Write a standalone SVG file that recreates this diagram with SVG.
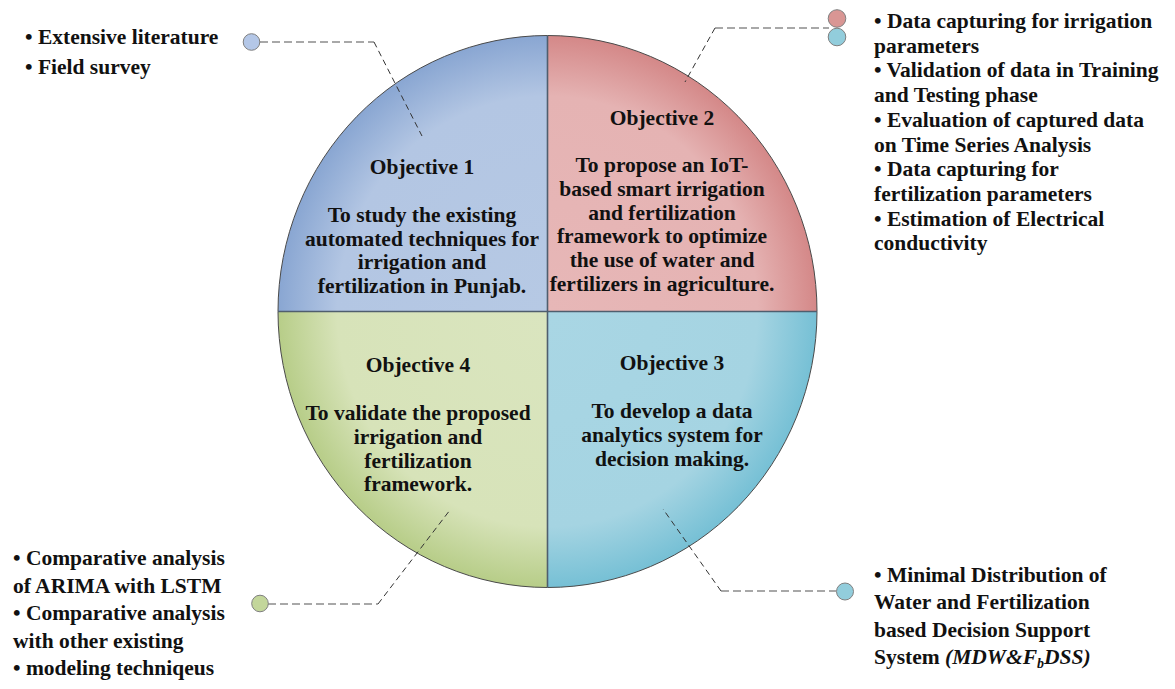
<svg xmlns="http://www.w3.org/2000/svg" width="1175" height="689" viewBox="0 0 1175 689">
  <defs>
    <style>
      text { font-family: "Liberation Serif", "Times New Roman", serif; font-weight: bold; font-size: 21.5px; fill: #111; }
      .mid { text-anchor: middle; }
      .rim { fill: none; stroke: #4a4a4a; stroke-width: 1; }
      .divider { stroke: #4f5e6e; stroke-width: 1.6; }
      .lead { fill: none; stroke: #8c8c8c; stroke-width: 1.6; stroke-dasharray: 8 4; }
      .drop { fill: none; stroke: #333; stroke-width: 1; stroke-dasharray: 6 4; }
      .dot { stroke: #7f7f7f; stroke-width: 1; }
      .it { font-style: italic; }
    </style>
    <radialGradient id="gBlue" gradientUnits="userSpaceOnUse" cx="547.5" cy="311.5" r="276" gradientTransform="translate(547.5 311.5) scale(0.9765 1) translate(-547.5 -311.5)">
      <stop offset="0" stop-color="#b6c9e4"/>
      <stop offset="0.78" stop-color="#b3c6e3"/>
      <stop offset="1" stop-color="#89a6d2"/>
    </radialGradient>
    <radialGradient id="gRed" gradientUnits="userSpaceOnUse" cx="547.5" cy="311.5" r="276" gradientTransform="translate(547.5 311.5) scale(0.9765 1) translate(-547.5 -311.5)">
      <stop offset="0" stop-color="#e7b7b7"/>
      <stop offset="0.78" stop-color="#e5b3b3"/>
      <stop offset="1" stop-color="#d48888"/>
    </radialGradient>
    <radialGradient id="gCyan" gradientUnits="userSpaceOnUse" cx="547.5" cy="311.5" r="276" gradientTransform="translate(547.5 311.5) scale(0.9765 1) translate(-547.5 -311.5)">
      <stop offset="0" stop-color="#a9d6e4"/>
      <stop offset="0.78" stop-color="#a5d4e2"/>
      <stop offset="1" stop-color="#76c0d5"/>
    </radialGradient>
    <radialGradient id="gGreen" gradientUnits="userSpaceOnUse" cx="547.5" cy="311.5" r="276" gradientTransform="translate(547.5 311.5) scale(0.9765 1) translate(-547.5 -311.5)">
      <stop offset="0" stop-color="#dae5bf"/>
      <stop offset="0.78" stop-color="#d7e3b9"/>
      <stop offset="1" stop-color="#b7cd88"/>
    </radialGradient>
  </defs>

  <rect width="1175" height="689" fill="#fff"/>

  <!-- Objective 1 (top-left quadrant) -->
  <g id="objective1">
    <path d="M547.5,311.5 H278 A269.5,276 0 0 1 547.5,35.5 Z" fill="url(#gBlue)"/>
    <text class="mid" x="422" y="174">Objective 1</text>
    <text class="mid" x="422" y="222">To study the existing</text>
    <text class="mid" x="422" y="245.5">automated techniques for</text>
    <text class="mid" x="422" y="269">irrigation and</text>
    <text class="mid" x="422" y="292.5">fertilization in Punjab.</text>
  </g>

  <!-- Objective 2 (top-right quadrant) -->
  <g id="objective2">
    <path d="M547.5,311.5 V35.5 A269.5,276 0 0 1 817,311.5 Z" fill="url(#gRed)"/>
    <text class="mid" x="662" y="125">Objective 2</text>
    <text class="mid" x="662" y="172">To propose an IoT-</text>
    <text class="mid" x="662" y="195.8">based smart irrigation</text>
    <text class="mid" x="662" y="219.6">and fertilization</text>
    <text class="mid" x="662" y="243.4">framework to optimize</text>
    <text class="mid" x="662" y="267.2">the use of water and</text>
    <text class="mid" x="662" y="291">fertilizers in agriculture.</text>
  </g>

  <!-- Objective 3 (bottom-right quadrant) -->
  <g id="objective3">
    <path d="M547.5,311.5 H817 A269.5,276 0 0 1 547.5,587.5 Z" fill="url(#gCyan)"/>
    <text class="mid" x="672" y="370">Objective 3</text>
    <text class="mid" x="672" y="418">To develop a data</text>
    <text class="mid" x="672" y="442">analytics system for</text>
    <text class="mid" x="672" y="466">decision making.</text>
  </g>

  <!-- Objective 4 (bottom-left quadrant) -->
  <g id="objective4">
    <path d="M547.5,311.5 V587.5 A269.5,276 0 0 1 278,311.5 Z" fill="url(#gGreen)"/>
    <text class="mid" x="418" y="372">Objective 4</text>
    <text class="mid" x="418" y="420">To validate the proposed</text>
    <text class="mid" x="418" y="444">irrigation and</text>
    <text class="mid" x="418" y="467.5">fertilization</text>
    <text class="mid" x="418" y="491">framework.</text>
  </g>

  <!-- circle outline and quadrant dividers -->
  <g id="wheel-frame">
    <ellipse class="rim" cx="547.5" cy="311.5" rx="269.5" ry="276"/>
    <line class="divider" x1="547.5" y1="35.5" x2="547.5" y2="587.5"/>
    <line class="divider" x1="278" y1="311.5" x2="817" y2="311.5"/>
  </g>

  <!-- leader lines from each quadrant to its notes -->
  <g id="connectors">
    <polyline class="lead" points="260,42 374,42"/>
    <polyline class="drop" points="374,42 422,136"/>
    <polyline class="lead" points="715,28 829,28"/>
    <polyline class="drop" points="715,28 685,82"/>
    <polyline class="lead" points="721,591 836,591"/>
    <polyline class="drop" points="721,591 663,509"/>
    <polyline class="lead" points="268,604 378,604"/>
    <polyline class="drop" points="378,604 450,510"/>
  </g>

  <!-- marker dots -->
  <g id="dots">
    <circle class="dot" cx="251.5" cy="42" r="8.3" fill="#b4c7e7"/>
    <circle class="dot" cx="837" cy="18.5" r="8.8" fill="#d99694"/>
    <circle class="dot" cx="837" cy="37" r="8.8" fill="#92cddc"/>
    <circle class="dot" cx="845" cy="591.5" r="8.5" fill="#92cddc"/>
    <circle class="dot" cx="260" cy="603.5" r="8.3" fill="#c3d69b"/>
  </g>

  <!-- notes: objective 1 -->
  <g id="notes1">
    <text x="25" y="43.5">• Extensive literature</text>
    <text x="25" y="73.5">• Field survey</text>
  </g>

  <!-- notes: objective 2 -->
  <g id="notes2">
    <text x="874" y="28">• Data capturing for irrigation</text>
    <text x="874" y="52.7">parameters</text>
    <text x="874" y="77.4">• Validation of data in Training</text>
    <text x="874" y="102.1">and Testing phase</text>
    <text x="874" y="126.8">• Evaluation of captured data</text>
    <text x="874" y="151.5">on Time Series Analysis</text>
    <text x="874" y="176.2">• Data capturing for</text>
    <text x="874" y="200.9">fertilization parameters</text>
    <text x="874" y="225.6">• Estimation of Electrical</text>
    <text x="874" y="250.3">conductivity</text>
  </g>

  <!-- notes: objective 3 -->
  <g id="notes3">
    <text x="874" y="582">• Minimal Distribution of</text>
    <text x="874" y="609.3">Water and Fertilization</text>
    <text x="874" y="636.6">based Decision Support</text>
    <text x="874" y="663.9">System <tspan class="it">(MDW&amp;F</tspan><tspan class="it" font-size="14" dy="4">b</tspan><tspan class="it" dy="-4">DSS)</tspan></text>
  </g>

  <!-- notes: objective 4 -->
  <g id="notes4">
    <text x="13" y="565">• Comparative analysis</text>
    <text x="13" y="592.5">of ARIMA with LSTM</text>
    <text x="13" y="620">• Comparative analysis</text>
    <text x="13" y="647.5">with other existing</text>
    <text x="13" y="675">• modeling techniqeus</text>
  </g>
</svg>
